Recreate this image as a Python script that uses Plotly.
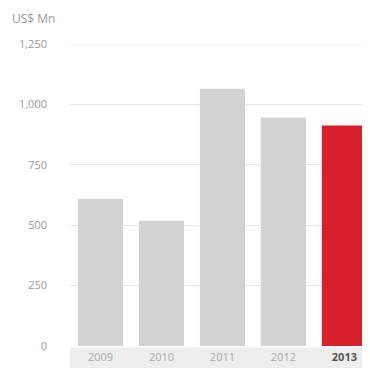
import plotly.graph_objects as go

categories = ["2009", "2010", "2011", "2012", "2013"]
values = [608, 518, 1065, 946, 913]
colors = ["#d3d3d3", "#d3d3d3", "#d3d3d3", "#d3d3d3", "#d7202a"]
tick_vals = [0, 250, 500, 750, 1000, 1250]
tick_text = ["0", "250", "500", "750", "1,000", "1,250"]
x_labels = ["2009", "2010", "2011", "2012", "<b><span style='color:#555555'>2013</span></b>"]

# The page body has an 8px default margin, so the figure is shifted by 8px.
W, H = 362, 363
L, T, B = 62, 36, 25
PH = H - T - B

fig = go.Figure(go.Bar(x=list(range(len(categories))), y=values, marker_color=colors,
                       marker_line_width=0))

fig.update_layout(
    width=W, height=H,
    margin=dict(l=L, r=0, t=T, b=B),
    paper_bgcolor="white", plot_bgcolor="white",
    bargap=0.26,
    showlegend=False,
    font=dict(family="Open Sans, Arial, sans-serif", size=11, color="#a0a0a0"),
    annotations=[dict(text="US$ Mn", xref="paper", yref="paper", x=-(L - 2) / (W - L),
                      y=1 + (T - 10) / PH,
                      xanchor="left", yanchor="middle", showarrow=False,
                      font=dict(size=12, color="#9a9a9a"))],
    shapes=[
        dict(type="rect", xref="paper", yref="paper", x0=0, x1=1, y0=-1.5 / PH, y1=-22 / PH,
             fillcolor="#eeeeee", line_width=0, layer="below"),
        dict(type="line", xref="paper", yref="y", x0=0, x1=1, y0=tick_vals[-1], y1=tick_vals[-1],
             line=dict(color="#e6e6e6", width=1), layer="below"),
    ],
)
fig.update_xaxes(range=[-0.5, 4.42], tickvals=list(range(len(categories))), ticktext=x_labels,
                 showgrid=False, zeroline=False, showline=False, ticks="",
                 ticklabelstandoff=3, tickfont=dict(size=11, color="#a8a8a8"))
fig.update_yaxes(range=[0, 1250], tickvals=tick_vals, ticktext=tick_text,
                 showgrid=True, gridcolor="#e6e6e6", gridwidth=1, zeroline=False,
                 ticks="", ticklabelstandoff=22, tickfont=dict(size=11, color="#9a9a9a"))

fig.write_html("out.html")
